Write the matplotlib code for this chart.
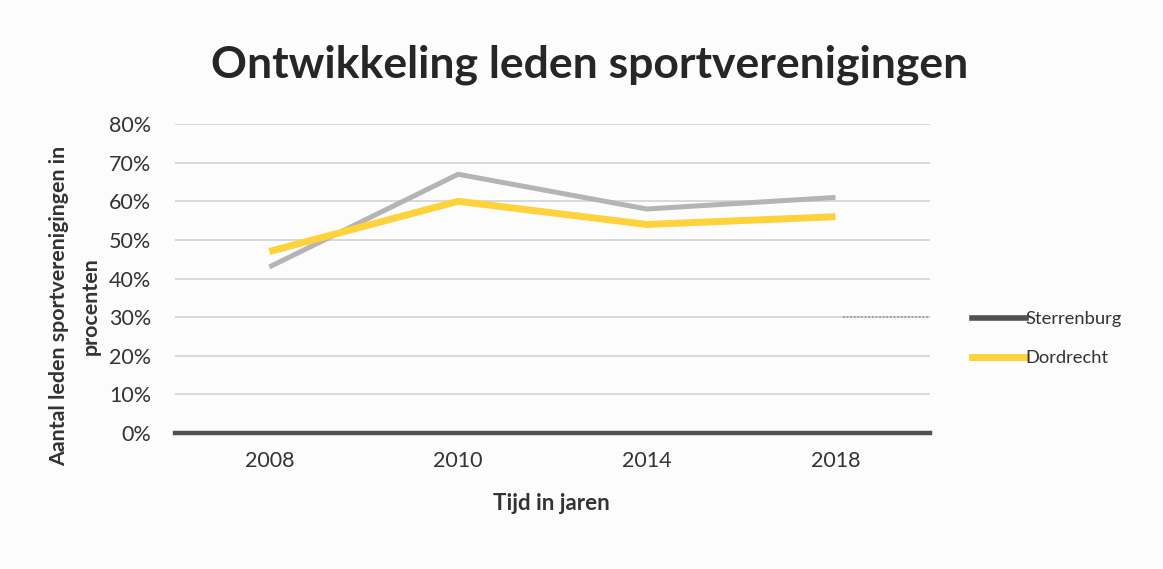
#!/usr/bin/env python
"""Ontwikkeling leden sportverenigingen: Excel-style line chart, 2 series. Writes out.png."""
import numpy as np
import matplotlib as mpl
mpl.use("Agg")
import matplotlib.pyplot as plt
from matplotlib.lines import Line2D
from matplotlib.ticker import PercentFormatter

mpl.rcParams.update({"font.family": ["Lato", "DejaVu Sans"], "font.size": 13})

years = ["2008", "2010", "2014", "2018"]
sterrenburg = [0.43, 0.67, 0.58, 0.61]
dordrecht = [0.47, 0.60, 0.54, 0.56]
yticks = [0.0, 0.1, 0.2, 0.3, 0.4, 0.5, 0.6, 0.7, 0.8]

C = dict(grey="#b4b4b4", yellow="#fdd23a", dark="#505050", grid="#d9d9d9", text="#333333")


def main():
    fig = plt.figure(figsize=(11.63, 5.69), dpi=100, facecolor="#fcfcfc")
    ax = fig.add_axes([0.1505, 0.239, 0.649, 0.543], facecolor="none")
    x = np.arange(len(years))

    ax.plot(x, sterrenburg, color=C["grey"], lw=3.6, solid_capstyle="butt", zorder=3)
    ax.plot(x, dordrecht, color=C["yellow"], lw=5, solid_capstyle="butt", zorder=4)

    ax.set_xlim(-0.5, len(years) - 0.5)
    ax.set_ylim(0, 0.8)
    ax.set_yticks(yticks)
    ax.yaxis.set_major_formatter(PercentFormatter(1.0, decimals=0))
    ax.set_xticks(x)
    ax.set_xticklabels(years)
    ax.tick_params(length=0, labelsize=15.5, colors=C["text"], pad=17)
    ax.tick_params(axis="x", pad=13)
    ax.grid(axis="y", color=C["grid"], lw=1.4)
    ax.set_axisbelow(True)
    for s in ("top", "right", "left"):
        ax.spines[s].set_visible(False)
    ax.spines["bottom"].set(color=C["dark"], lw=3.2, zorder=5)

    # leftover dotted stroke from the scan, right of the last point
    ax.plot([0.885, 1.0], [0.30, 0.30], transform=ax.get_yaxis_transform(), ls=(0, (1, 1)),
            color="#9a9a9a", lw=1.3, zorder=2)

    ax.set_xlabel("Tijd in jaren", fontweight="bold", fontsize=16, color=C["text"])
    ax.xaxis.set_label_coords(0.499, -0.195)
    ax.set_ylabel("Aantal leden sportverenigingen in\nprocenten", fontweight="bold", fontsize=15.4,
                  color=C["text"], linespacing=1.7)
    ax.yaxis.set_label_coords(-0.099, 0.41)
    fig.text(0.507, 0.886, "Ontwikkeling leden sportverenigingen", ha="center", va="center",
             fontsize=32, fontweight="bold", color="#262626")

    handles = [Line2D([], [], color=C["dark"], lw=4), Line2D([], [], color=C["yellow"], lw=5)]
    fig.legend(handles, ["Sterrenburg", "Dordrecht"], loc="center left", bbox_to_anchor=(0.822, 0.405),
               frameon=False, fontsize=13.2, handlelength=2.9, handletextpad=0.0, labelspacing=1.25,
               labelcolor=C["text"])

    fig.savefig("out.png", dpi=100, facecolor=fig.get_facecolor())
    plt.close(fig)


if __name__ == "__main__":
    main()
